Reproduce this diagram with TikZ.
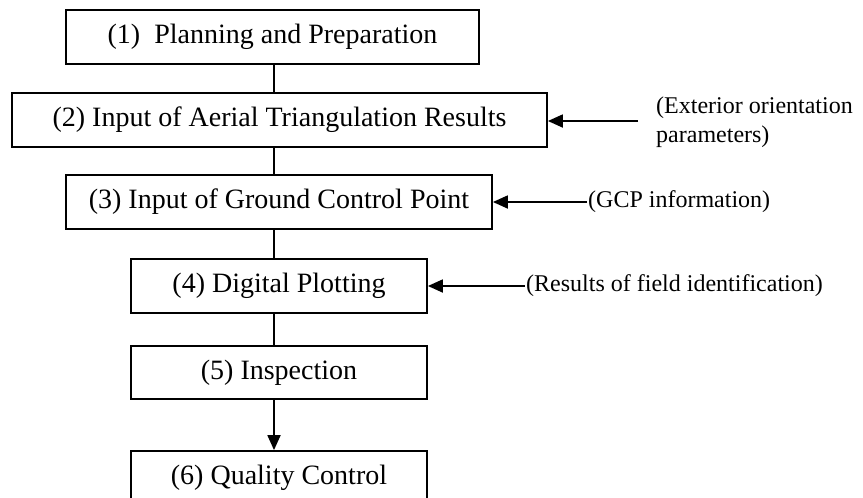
\documentclass[tikz,border=0pt]{standalone}
\usepackage{fontspec}
\setmainfont{Liberation Serif}
\usetikzlibrary{arrows.meta}
\begin{document}
\begin{tikzpicture}[x=1pt,y=-1pt,
 box/.style={draw,line width=1.8pt,inner sep=0pt,font=\fontsize{28}{32}\selectfont},
 lab/.style={font=\fontsize{24}{29}\selectfont,inner sep=1pt,anchor=west,align=left},
 link/.style={line width=1.8pt},
 arr/.style={line width=1.8pt,-{Triangle[length=15pt,width=13pt]}}]
\clip (0,0) rectangle (863,498);
\node[box,minimum width=413pt,minimum height=54pt] (b1) at (272.5,37) {(1)\ \ Planning and Preparation};
\node[box,minimum width=535pt,minimum height=54pt] (b2) at (279.5,120) {(2) Input of Aerial Triangulation Results};
\node[box,minimum width=426pt,minimum height=54pt] (b3) at (279,202) {(3) Input of Ground Control Point};
\node[box,minimum width=296pt,minimum height=54pt] (b4) at (279,286) {(4) Digital Plotting};
\node[box,minimum width=296pt,minimum height=53pt] (b5) at (279,372.5) {(5) Inspection};
\node[box,minimum width=296pt,minimum height=54pt] (b6) at (279,478) {(6) Quality Control};
\coordinate (cx) at (274,0);
\draw[link] (b1.south -| cx) -- (b2.north -| cx);
\draw[link] (b2.south -| cx) -- (b3.north -| cx);
\draw[link] (b3.south -| cx) -- (b4.north -| cx);
\draw[link] (b4.south -| cx) -- (b5.north -| cx);
\draw[arr] (b5.south -| cx) -- (b6.north -| cx);
\node[lab] (ext) at (655,122.5) {(Exterior orientation\\parameters)};
\coordinate (e1) at (638,121);
\draw[arr] (e1) -- (e1 -| b2.east);
\node[lab] (gcp) at (587,202) {(GCP information)};
\draw[arr] (gcp.west) -- (gcp.west -| b3.east);
\node[lab] (res) at (525,286) {(Results of field identification)};
\draw[arr] (res.west) -- (res.west -| b4.east);
\end{tikzpicture}
\end{document}
